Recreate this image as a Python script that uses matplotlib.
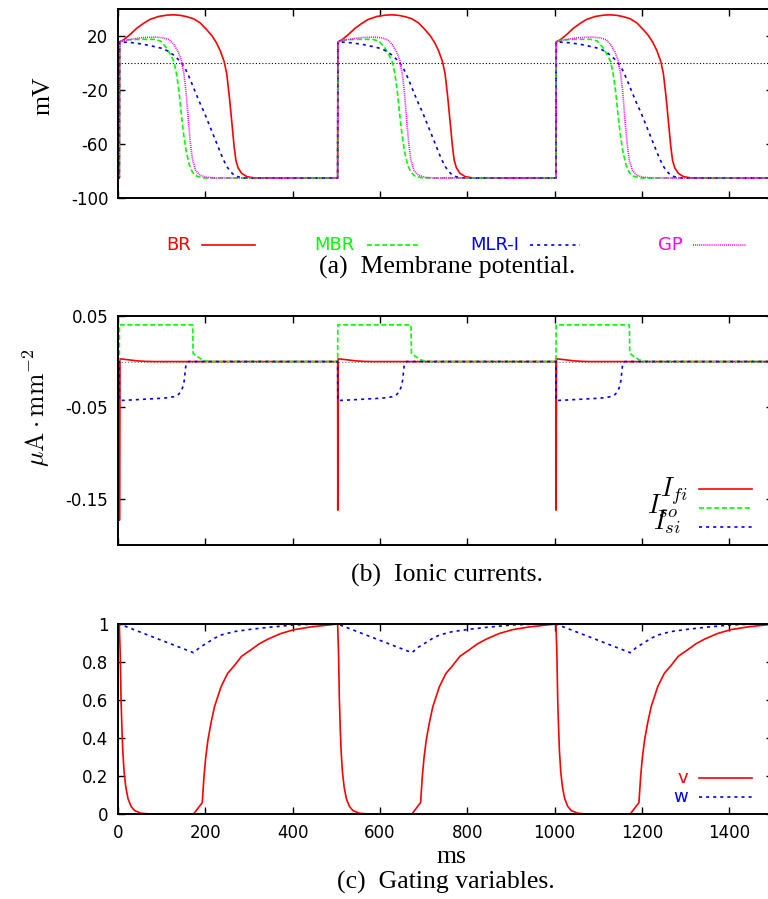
import numpy as np
import matplotlib
matplotlib.use("Agg")
import matplotlib.pyplot as plt
from matplotlib.lines import Line2D

W, H = 768, 899

plt.rcParams["mathtext.fontset"] = "cm"
plt.rcParams["lines.scale_dashes"] = False
plt.rcParams["axes.unicode_minus"] = False

# pacing: one stimulus every 500 ms, three beats shown
period = 500
stim_at = 3
n_beats = 3
t_end = 1500
x_ticks = [0, 200, 400, 600, 800, 1000, 1200, 1400]

# (a) membrane potential, one beat per model (ms after stimulus, mV)
rest_mv = -85
br_t = [0, 0.6, 10, 25, 40, 55, 70, 90, 110, 125, 140, 155, 170, 185, 200, 212,
        222, 231, 240, 246, 252, 258, 263, 267, 272, 280, 292, 310]
br_v = [-85, 15.5, 17, 21, 25.5, 29, 32, 34.2, 35.2, 35.4, 35, 34, 32.5, 29.5, 24.5, 20,
        15, 9, 1, -8, -25, -45, -62, -72, -77.5, -81.5, -84, -85]
mbr_t = [0, 0.6, 15, 40, 80, 95, 108, 118, 125, 131, 137, 142, 147, 153, 160, 168, 178, 195]
mbr_v = [-85, 15.5, 16.8, 17.3, 17.3, 16, 11, 5.5, 1, -8, -22, -38, -52, -65, -75, -81,
         -83.8, -85]
mlr_t = [0, 0.6, 30, 55, 80, 100, 115, 125, 135, 143, 152, 162, 172, 185, 195, 205, 215,
         225, 235, 245, 255, 265, 280, 295]
mlr_v = [-85, 15.5, 14.8, 13.7, 12, 10.5, 8, 5.5, 2.5, -0.4, -5, -12, -20, -30, -37, -45,
         -53, -61, -69, -76, -80.5, -83.5, -84.8, -85]
gp_t = [0, 0.6, 20, 50, 80, 100, 115, 125, 135, 142, 148, 153, 158, 163, 168, 175, 185,
        200, 220]
gp_v = [-85, 15.5, 17, 18.5, 19, 18.5, 17, 13.5, 8, 2, -8, -22, -42, -60, -72, -79.5,
        -83, -84.5, -85]

# (b) ionic currents (uA/mm^2)
fi_spike = [-0.173, -0.162, -0.162]
fi_t = [0, 0.3, 1.2, 20, 40, 60, 80]
fi_v = [0, None, 0.003, 0.002, 0.0008, 0.0002, 0]
so_t = [0, 0.4, 168, 169, 180, 190, 200, 210]
so_v = [0, 0.04, 0.04, 0.009, 0.005, 0.002, 0.0005, 0]
si_t = [0, 0.4, 30, 60, 90, 110, 125, 135, 141, 146, 149, 151, 153, 158]
si_v = [0, -0.0425, -0.0418, -0.041, -0.0402, -0.0395, -0.0383, -0.036, -0.033, -0.027,
        -0.020, -0.010, -0.002, 0]

# (c) gating variables
v_t = [0, 2, 4, 6, 8, 11, 15, 20, 27, 35, 50, 70, 170, 190, 194, 198, 203, 210, 218,
       233, 248, 263, 280, 302, 320, 340, 370, 400, 440, 480]
v_v = [1, 0.85, 0.6, 0.45, 0.33, 0.22, 0.14, 0.08, 0.04, 0.018, 0.004, 0, 0, 0.06, 0.2,
       0.3, 0.39, 0.48, 0.565, 0.67, 0.74, 0.78, 0.83, 0.865, 0.895, 0.92, 0.95, 0.97,
       0.985, 0.995]
w_t = [0, 170, 185, 202, 218, 233, 263, 301, 339, 400, 450]
w_v = [1, 0.849, 0.878, 0.902, 0.925, 0.942, 0.96, 0.972, 0.982, 0.995, 0.999]

RED, GREEN, BLUE, MAGENTA = "#ff0000", "#00ff00", "#0000ff", "#ff00ff"
DASH = (0, (3.6, 1.9))
SHORT = (0, (2.2, 2.9))
FINE = (0, (0.7, 0.7))


def train(t, y, last, values=None):
    ts, ys = [[0.0]], [[y[0]]]
    for k in range(n_beats):
        yk = list(y)
        if values is not None:
            yk = [values[k] if v is None else v for v in yk]
        ts.append(np.asarray(t, float) + k * period + stim_at)
        ys.append(np.asarray(yk, float))
    ts.append([t_end])
    ys.append([last])
    return np.concatenate(ts), np.concatenate(ys)


def frame(top, bottom):
    return [118 / W, 1 - bottom / H, (773 - 118) / W, (bottom - top) / H]


def fxy(x, y):
    return x / W, 1 - y / H


def key(fig, label, x_text, x0, x1, y, color, ls, **kw):
    fig.add_artist(Line2D([x0 / W, x1 / W], [1 - y / H] * 2, transform=fig.transFigure,
                          color=color, lw=1.2, ls=ls))
    fig.text(*fxy(x_text, y), label, ha="right", va="center", color=color, **kw)


fig = plt.figure(figsize=(W / 100, H / 100), dpi=100)
ax_a = fig.add_axes(frame(8.6, 198.3))
ax_b = fig.add_axes(frame(315.7, 545))
ax_c = fig.add_axes(frame(624, 814))

for ax in (ax_a, ax_b, ax_c):
    ax.set_xlim(0, t_end)
    ax.set_xticks(x_ticks)
    ax.tick_params(direction="in", top=True, right=True, length=5, width=1,
                   labelsize=12, pad=7)
    for s in ax.spines.values():
        s.set_linewidth(1.4)

# membrane potential
ax_a.axhline(0, color="black", lw=0.8, ls=(0, (0.8, 1.5)), zorder=1)
for t, v, c, ls in ((br_t, br_v, RED, "-"), (mbr_t, mbr_v, GREEN, DASH),
                    (mlr_t, mlr_v, BLUE, SHORT), (gp_t, gp_v, MAGENTA, FINE)):
    ax_a.plot(*train(t, v, rest_mv), color=c, lw=1.2, ls=ls)
ax_a.set_ylim(-100, 40)
ax_a.set_yticks([20, -20, -60, -100])
ax_a.tick_params(labelbottom=False)

# ionic currents
ax_b.axhline(0, color="0.5", lw=0.8, ls=(0, (0.8, 1.5)), zorder=1)
ax_b.plot(*train(fi_t, fi_v, 0, fi_spike), color=RED, lw=1.2)
ax_b.plot(*train(so_t, so_v, 0), color=GREEN, lw=1.2, ls=DASH)
ax_b.plot(*train(si_t, si_v, 0), color=BLUE, lw=1.2, ls=SHORT)
ax_b.set_ylim(-0.2, 0.05)
ax_b.set_yticks([0.05, -0.05, -0.15])
ax_b.set_yticklabels(["0.05", "-0.05", "-0.15"])
ax_b.tick_params(labelbottom=False)

# gating variables
ax_c.plot(*train(v_t, v_v, 1), color=RED, lw=1.2)
ax_c.plot(*train(w_t, w_v, 1), color=BLUE, lw=1.2, ls=SHORT)
ax_c.set_ylim(0, 1)
ax_c.set_yticks([0, 0.2, 0.4, 0.6, 0.8, 1])
ax_c.set_yticklabels(["0", "0.2", "0.4", "0.6", "0.8", "1"])
ax_c.set_xticklabels([str(x) for x in x_ticks])

serif = dict(family="Liberation Serif", fontsize=18.5)

# axis titles and captions
fig.text(*fxy(43, 96), "mV", rotation=90, ha="center", va="center", **serif)
fig.text(*fxy(36, 408), r"$\mu\mathrm{A}\cdot\mathrm{mm}^{-2}$", rotation=90,
         ha="center", va="center", fontsize=18.5)
fig.text(*fxy(451, 857), "ms", ha="center", va="center", **serif)
fig.text(*fxy(447, 267), "(a)  Membrane potential.", ha="center", va="center", **serif)
fig.text(*fxy(447, 575), "(b)  Ionic currents.", ha="center", va="center", **serif)
fig.text(*fxy(446, 882), "(c)  Gating variables.", ha="center", va="center", **serif)

# keys
sans = dict(fontsize=13)
key(fig, "BR", 191, 202, 255, 245, RED, "-", **sans)
key(fig, "MBR", 354, 367, 420, 245, GREEN, DASH, **sans)
key(fig, "MLR-I", 519, 530, 580, 245, BLUE, SHORT, **sans)
key(fig, "GP", 683, 693, 746, 245, MAGENTA, FINE, **sans)

for label, y_line, y_base, x_right, c, ls in (
        (r"$I_{fi}$", 489, 497, 688, RED, "-"),
        (r"$I_{so}$", 508, 514, 678, GREEN, DASH),
        (r"$I_{si}$", 527, 530, 681, BLUE, SHORT)):
    fig.add_artist(Line2D([699 / W, 752 / W], [1 - y_line / H] * 2,
                          transform=fig.transFigure, color=c, lw=1.2, ls=ls))
    fig.text(*fxy(x_right, y_base), label, ha="right", va="baseline", fontsize=19)

key(fig, "v", 688, 699, 752, 778, RED, "-", **sans)
key(fig, "w", 688, 699, 752, 797, BLUE, SHORT, **sans)

fig.savefig("out.png", dpi=100)
